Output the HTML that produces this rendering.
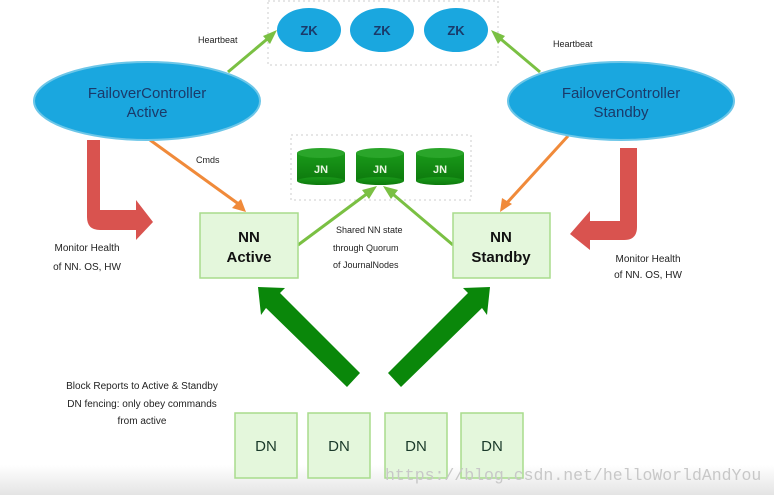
<!DOCTYPE html>
<html><head><meta charset="utf-8"><style>
html,body{margin:0;padding:0;background:#fff}
svg{display:block}
text{font-family:"Liberation Sans",sans-serif}
</style></head><body>
<svg width="774" height="495" viewBox="0 0 774 495" xmlns="http://www.w3.org/2000/svg">
<defs>
<linearGradient id="bg" x1="0" y1="0" x2="0" y2="1"><stop offset="0" stop-color="#fff"/><stop offset="1" stop-color="#e4e4e4"/></linearGradient>
<linearGradient id="cyl" x1="0" y1="0" x2="0" y2="1"><stop offset="0" stop-color="#1a9a1a"/><stop offset="1" stop-color="#0d7a0d"/></linearGradient>
</defs>
<rect x="0" y="465" width="774" height="30" fill="url(#bg)"/>
<rect x="268" y="1" width="230" height="64" fill="none" stroke="#ccc" stroke-dasharray="2,3"/>
<rect x="291" y="135" width="180" height="65" fill="none" stroke="#ccc" stroke-dasharray="2,3"/>
<g stroke="#7ac043" stroke-width="3" fill="none">
<line x1="228" y1="72" x2="272" y2="35"/>
<line x1="540" y1="72" x2="496" y2="35"/>
<line x1="298" y1="245" x2="372" y2="190"/>
<line x1="453" y1="245" x2="388" y2="190"/>
</g>
<g fill="#7ac043">
<polygon points="277,30 263,36 270,44"/>
<polygon points="491,30 505,36 498,44"/>
<polygon points="377,186 362,190 369,199"/>
<polygon points="383,186 391,199 398,190"/>
</g>
<g stroke="#f08a3a" stroke-width="3" fill="none">
<line x1="150" y1="140" x2="240" y2="205"/>
<line x1="568" y1="136" x2="505" y2="205"/>
</g>
<polygon points="246,212 232,208 241,199" fill="#f08a3a"/>
<polygon points="500,212 502,198 512,204" fill="#f08a3a"/>
<path d="M87,140 H100 V210 H136 V200 L153,222 L136,240 V230 H100 Q87,230 87,217 Z" fill="#d9534f"/>
<path d="M637,148 H620 V221 H590 V211 L570,234 L590,250 V240 H624 Q637,240 637,227 Z" fill="#d9534f"/>
<ellipse cx="147" cy="101" rx="113" ry="39" fill="#1aa7df" stroke="#6cc6e8" stroke-width="2"/>
<ellipse cx="621" cy="101" rx="113" ry="39" fill="#1aa7df" stroke="#6cc6e8" stroke-width="2"/>
<text x="147" y="98" font-size="15" fill="#1a3a6a" text-anchor="middle">FailoverController</text>
<text x="147" y="117" font-size="15" fill="#1a3a6a" text-anchor="middle">Active</text>
<text x="621" y="98" font-size="15" fill="#1a3a6a" text-anchor="middle">FailoverController</text>
<text x="621" y="117" font-size="15" fill="#1a3a6a" text-anchor="middle">Standby</text>
<g fill="#1aa7df">
<ellipse cx="309" cy="30" rx="32" ry="22"/>
<ellipse cx="382" cy="30" rx="32" ry="22"/>
<ellipse cx="456" cy="30" rx="32" ry="22"/>
</g>
<g font-size="13" font-weight="bold" fill="#1a3a6a" text-anchor="middle">
<text x="309" y="35">ZK</text><text x="382" y="35">ZK</text><text x="456" y="35">ZK</text>
</g>
<g fill="url(#cyl)">
<rect x="297" y="153" width="48" height="28"/><ellipse cx="321" cy="181" rx="24" ry="4"/>
<rect x="356" y="153" width="48" height="28"/><ellipse cx="380" cy="181" rx="24" ry="4"/>
<rect x="416" y="153" width="48" height="28"/><ellipse cx="440" cy="181" rx="24" ry="4"/>
</g>
<g fill="#2aa52a">
<ellipse cx="321" cy="153" rx="24" ry="5"/><ellipse cx="380" cy="153" rx="24" ry="5"/><ellipse cx="440" cy="153" rx="24" ry="5"/>
</g>
<g font-size="11" font-weight="bold" fill="#e8f5e0" text-anchor="middle">
<text x="321" y="173">JN</text><text x="380" y="173">JN</text><text x="440" y="173">JN</text>
</g>
<rect x="200" y="213" width="98" height="65" fill="#e4f7dc" stroke="#a8dc8c" stroke-width="1.5"/>
<rect x="453" y="213" width="97" height="65" fill="#e4f7dc" stroke="#a8dc8c" stroke-width="1.5"/>
<g font-size="15" font-weight="bold" fill="#111" text-anchor="middle">
<text x="249" y="242">NN</text><text x="249" y="262">Active</text>
<text x="501" y="242">NN</text><text x="501" y="262">Standby</text>
</g>
<polygon points="258,287 285,288 280,293 360,373 347,387 266,308 261,315" fill="#0a870a"/>
<polygon points="490,287 463,288 468,293 388,373 401,387 482,308 487,315" fill="#0a870a"/>
<g fill="#e4f7dc" stroke="#a8dc8c" stroke-width="1.5">
<rect x="235" y="413" width="62" height="65"/><rect x="308" y="413" width="62" height="65"/>
<rect x="385" y="413" width="62" height="65"/><rect x="461" y="413" width="62" height="65"/>
</g>
<g font-size="15" fill="#1a3a2a" text-anchor="middle">
<text x="266" y="451">DN</text><text x="339" y="451">DN</text><text x="416" y="451">DN</text><text x="492" y="451">DN</text>
</g>
<g font-size="9" fill="#222">
<text x="198" y="43">Heartbeat</text>
<text x="553" y="47">Heartbeat</text>
<text x="196" y="163">Cmds</text>
<text x="336" y="233">Shared NN state</text>
<text x="333" y="251">through Quorum</text>
<text x="333" y="268">of JournalNodes</text>
</g>
<g font-size="10" fill="#222" text-anchor="middle">
<text x="87" y="251">Monitor Health</text>
<text x="87" y="270">of NN. OS, HW</text>
<text x="648" y="262">Monitor Health</text>
<text x="648" y="278">of NN. OS, HW</text>
<text x="142" y="389">Block Reports to Active &amp; Standby</text>
<text x="142" y="407">DN fencing: only obey commands</text>
<text x="142" y="424">from active</text>
</g>
<text x="385" y="480" style="font-family:'Liberation Mono',monospace;font-size:16.5px" fill="#c8c8c8">https://blog.csdn.net/helloWorldAndYou</text>
</svg>
</body></html>
